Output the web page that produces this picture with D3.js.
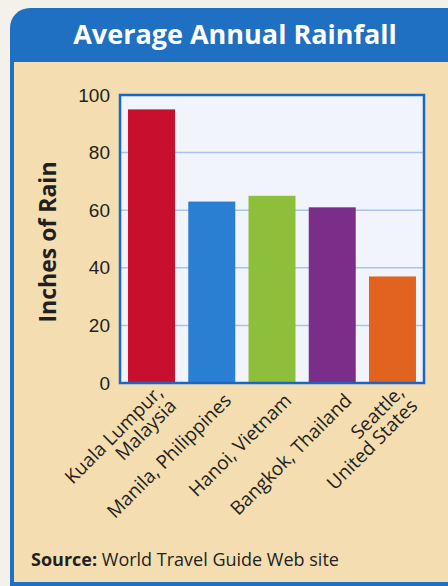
<!DOCTYPE html>
<html lang="en">
<head>
    <meta charset="UTF-8">
    <title>Average Annual Rainfall</title>
    <style>
        body{
            margin: 0;
            background: #f3f1ea;
        }
        svg{
            display: block;
            font-family: "Open Sans", "Noto Sans", sans-serif;
        }
        .tick text{
            font-size: 19px;
            fill: #231f20;
        }
        .cat-label{
            font-size: 19px;
            fill: #231f20;
        }
    </style>
    <script src="https://d3js.org/d3.v7.min.js"></script>
</head>
<body>
    <script>
        var cities = ["Kuala Lumpur,|Malaysia", "Manila, Philippines", "Hanoi, Vietnam",
                      "Bangkok, Thailand", "Seattle,|United States"];
        var rainfall = [95, 63, 65, 61, 37];
        var barColors = ["#c8102e", "#2b7fd3", "#8dbf3b", "#7a2e8a", "#e2621f"];
        var yTicks = [0, 20, 40, 60, 80, 100];

        var W = 448, H = 586;
        var svg = d3.select("body").append("svg")
                    .attr("width", W)
                    .attr("height", H);

        // panel: blue rounded header + beige body
        svg.append("rect")
            .attr("x", 10).attr("y", 8)
            .attr("width", 480).attr("height", 620)
            .attr("rx", 20)
            .attr("fill", "#1f6fc2");
        svg.append("rect")
            .attr("x", 14).attr("y", 62)
            .attr("width", W - 14).attr("height", 520)
            .attr("fill", "#f4deb1");

        svg.append("text")
            .attr("x", 235).attr("y", 44)
            .attr("text-anchor", "middle")
            .attr("fill", "white")
            .attr("font-weight", "bold")
            .attr("font-size", 27)
            .text("Average Annual Rainfall");

        var plot = {left: 120, right: 424, top: 95, bottom: 383};

        var x = d3.scaleBand()
                  .domain(cities)
                  .range([plot.left + 2, plot.right - 2])
                  .paddingInner(0.22)
                  .paddingOuter(0.1);
        var y = d3.scaleLinear()
                  .domain([0, 100])
                  .range([plot.bottom, plot.top]);

        svg.append("rect")
            .attr("x", plot.left).attr("y", plot.top)
            .attr("width", plot.right - plot.left)
            .attr("height", plot.bottom - plot.top)
            .attr("fill", "#f1f5fb");

        // gridlines
        svg.append("g")
            .selectAll("line")
            .data(yTicks.slice(1, -1))
            .join("line")
            .attr("x1", plot.left).attr("x2", plot.right)
            .attr("y1", d => y(d)).attr("y2", d => y(d))
            .attr("stroke", "#a8c3ec")
            .attr("stroke-width", 1.5);

        svg.append("g")
            .selectAll("rect")
            .data(rainfall)
            .join("rect")
            .attr("x", (d, i) => x(cities[i]))
            .attr("y", d => y(d))
            .attr("width", x.bandwidth())
            .attr("height", d => y(0) - y(d))
            .attr("fill", (d, i) => barColors[i]);

        // frame
        svg.append("rect")
            .attr("x", plot.left).attr("y", plot.top)
            .attr("width", plot.right - plot.left)
            .attr("height", plot.bottom - plot.top)
            .attr("fill", "none")
            .attr("stroke", "#1a66c4")
            .attr("stroke-width", 2.5);

        var yAxis = svg.append("g")
            .attr("transform", "translate(" + plot.left + ",0)")
            .call(d3.axisLeft(y).tickValues(yTicks).tickSize(0).tickPadding(10));
        yAxis.select(".domain").remove();
        yAxis.selectAll("text").attr("font-family", null);

        svg.append("text")
            .attr("transform", "translate(56,242) rotate(-90)")
            .attr("text-anchor", "middle")
            .attr("font-weight", "bold")
            .attr("font-size", 23)
            .attr("fill", "#231f20")
            .text("Inches of Rain");

        // category labels, rotated
        var labels = svg.append("g")
            .selectAll("text")
            .data(cities)
            .join("text")
            .attr("class", "cat-label")
            .attr("text-anchor", "end")
            .attr("transform", d => "translate(" + (x(d) + x.bandwidth() / 2 + 16) + "," + (plot.bottom + 14) + ") rotate(-45)");
        labels.each(function(d) {
            var parts = d.split("|");
            var t = d3.select(this);
            parts.forEach(function(p, j) {
                t.append("tspan")
                  .attr("x", 0)
                  .attr("dy", parts.length == 1 ? "0.35em" : (j == 0 ? "-0.25em" : "1.0em"))
                  .text(p);
            });
        });

        var src = svg.append("text")
            .attr("x", 31).attr("y", 566)
            .attr("font-size", 18)
            .attr("fill", "#231f20");
        src.append("tspan").attr("font-weight", "bold").text("Source:");
        src.append("tspan").text(" World Travel Guide Web site");
    </script>
</body>
</html>
